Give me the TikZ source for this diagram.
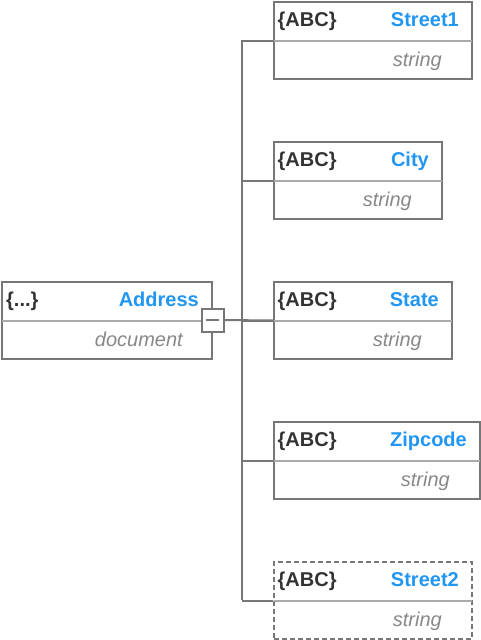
\documentclass[tikz,border=0pt]{standalone}
\usepackage{fontspec}
\setmainfont{Liberation Sans}
\usetikzlibrary{calc}
\definecolor{bordergray}{HTML}{777777}
\definecolor{divgray}{HTML}{AAAAAA}
\definecolor{nameblue}{HTML}{2196F3}
\definecolor{typegray}{HTML}{888888}
\definecolor{darktext}{HTML}{333333}
\tikzset{
  fieldbox/.style={draw=bordergray, line width=2pt, rectangle, inner sep=0pt, anchor=north west, minimum height=77pt, fill=white},
  optbox/.style={fieldbox, dash pattern=on 5pt off 3pt},
  conn/.style={draw=bordergray, line width=2pt},
  divider/.style={draw=divgray, line width=2pt},
  typetag/.style={anchor=base west, inner sep=0pt, text=darktext, font=\fontsize{20}{24}\selectfont\bfseries},
  fname/.style={anchor=base east, inner sep=0pt, text=nameblue, font=\fontsize{20}{24}\selectfont\bfseries},
  ftype/.style={anchor=base east, inner sep=0pt, text=typegray, font=\fontsize{20}{24}\selectfont\itshape},
  toggle/.style={draw=bordergray, line width=2pt, fill=white, rectangle, inner sep=0pt, minimum width=22pt, minimum height=23pt}
}
\begin{document}
\begin{tikzpicture}[x=1pt, y=-1pt]
\useasboundingbox (0,0) rectangle (480,640);
% trunk
\coordinate (tt) at (242,40);
\coordinate (tb) at (242,599.5);
\draw[conn] (tt) -- (tb);
% boxes
\node[fieldbox, minimum width=210pt] (address) at (1,281) {};
\node[fieldbox, minimum width=198pt] (street1) at (273,1) {};
\node[fieldbox, minimum width=168pt] (city) at (273,141) {};
\node[fieldbox, minimum width=178pt] (state) at (273,281) {};
\node[fieldbox, minimum width=206pt] (zipcode) at (273,421) {};
\node[optbox, minimum width=198pt] (street2) at (273,561) {};
% dividers
\foreach \b in {address,street1,city,state,zipcode,street2}{
  \draw[divider] ($(\b.west)+(1,0)$) -- ($(\b.east)+(-1,0)$);
}
% connectors
\foreach \b in {street1,city,state,zipcode,street2}{
  \draw[conn] (\b.west) -- (\b.west -| tt);
}
% toggle
\node[toggle] (tog) at (212.5,320) {};
\draw[conn] (tog.east) -- (state.west);
\draw[bordergray, line width=2pt] ($(tog.center)+(-6.5,0)$) -- ($(tog.center)+(6.5,0)$);
% texts
\node[typetag] (addresstag) at ($(address.north west)+(5,25.5)$) {\{...\}};
\node[fname] (addressname) at ($(address.north east)+(-14,25.5)$) {Address};
\node[ftype] (addresstype) at ($(address.north east)+(-30,65)$) {document};
\foreach \b/\n in {street1/Street1,city/City,state/State,zipcode/Zipcode,street2/Street2}{
  \node[typetag] (\b tag) at ($(\b.north west)+(4.5,25.5)$) {\{ABC\}};
  \node[fname] (\b name) at ($(\b.north east)+(-14,25.5)$) {\n};
  \node[ftype] (\b type) at ($(\b.north east)+(-31,65)$) {string};
}
\end{tikzpicture}
\end{document}
